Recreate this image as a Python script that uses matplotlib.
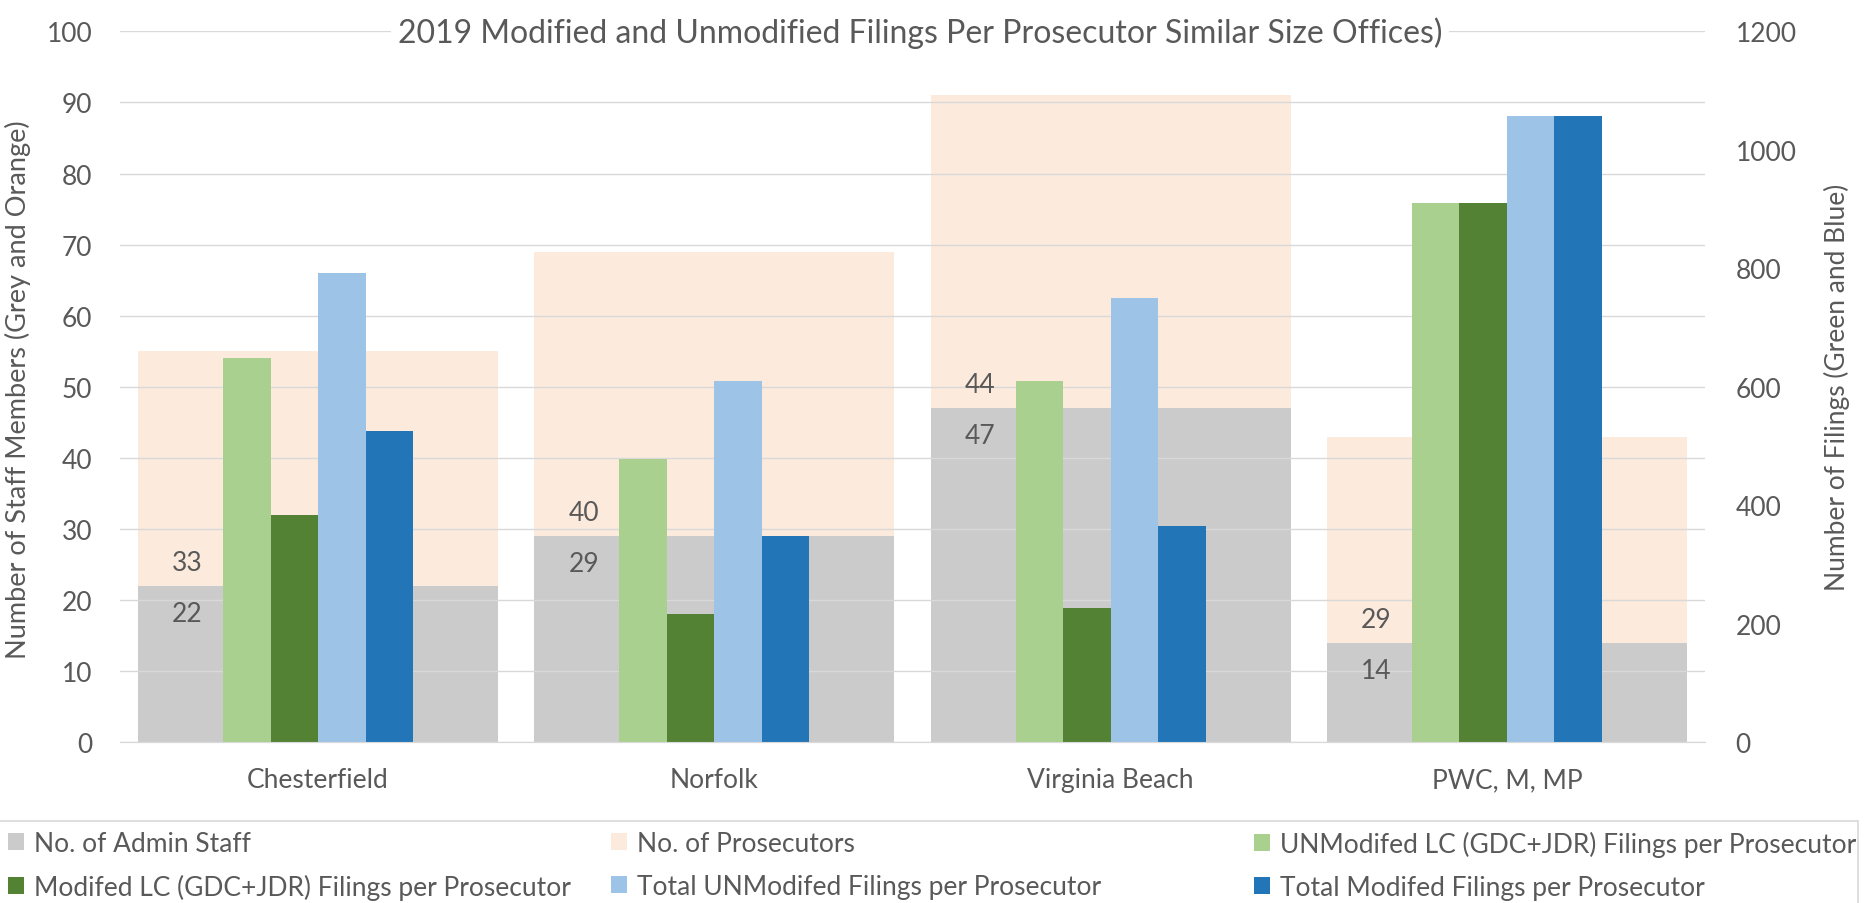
import matplotlib.pyplot as plt
import numpy as np
from matplotlib.patches import Patch, Rectangle

offices = ["Chesterfield", "Norfolk", "Virginia Beach", "PWC, M, MP"]
admin_staff = [22, 29, 47, 14]
prosecutors = [33, 40, 44, 29]
unmod_lc = [648, 478, 610, 911]
mod_lc = [384, 216, 227, 911]
total_unmod = [792, 610, 750, 1057]
total_mod = [526, 349, 365, 1057]

GREY = "#CBCBCB"
ORANGE = "#FCEADC"
LGREEN = "#A9D08E"
DGREEN = "#548235"
LBLUE = "#9DC3E6"
DBLUE = "#2275B7"
TEXT = "#595959"
GRID = "#D9D9D9"

FONT = "Lato"
FS = 19


def main():
    plt.rcParams["font.family"] = [FONT, "DejaVu Sans"]
    plt.rcParams["text.color"] = TEXT
    plt.rcParams["axes.labelcolor"] = TEXT
    plt.rcParams["xtick.color"] = TEXT
    plt.rcParams["ytick.color"] = TEXT

    fig = plt.figure(figsize=(18.68, 9.04), dpi=100)
    ax = fig.add_axes([120 / 1868, 1 - 743.3 / 904, 1585 / 1868, 711 / 904])
    ax2 = ax.twinx()

    x = np.arange(len(offices))

    # stacked staff bars on the left axis
    ax.bar(x, admin_staff, width=0.909, color=GREY, zorder=1)
    ax.bar(x, prosecutors, width=0.909, bottom=admin_staff, color=ORANGE, zorder=1)

    for i in range(len(offices)):
        ax.annotate(str(admin_staff[i]), (x[i] - 0.33, admin_staff[i]),
                    xytext=(0, -20), textcoords="offset points",
                    ha="center", va="center", fontsize=FS, color=TEXT)
        ax.annotate(str(prosecutors[i]), (x[i] - 0.33, admin_staff[i]),
                    xytext=(0, 17), textcoords="offset points",
                    ha="center", va="center", fontsize=FS, color=TEXT)

    # filings bars on the right axis
    w = 0.12
    ax2.bar(x - 1.5 * w, unmod_lc, width=w, color=LGREEN)
    ax2.bar(x - 0.5 * w, mod_lc, width=w, color=DGREEN)
    ax2.bar(x + 0.5 * w, total_unmod, width=w, color=LBLUE)
    ax2.bar(x + 1.5 * w, total_mod, width=w, color=DBLUE)

    ax.set_xlim(-0.5, 3.5)
    ax.set_ylim(0, 100)
    ax.set_yticks(range(0, 101, 10))
    ax2.set_ylim(0, 1200)
    ax2.set_yticks(range(0, 1201, 200))

    ax.set_axisbelow(False)
    ax.grid(axis="y", color=GRID, linewidth=1.0)
    ax.set_xticks(x)
    ax.set_xticklabels(offices)

    for a in (ax, ax2):
        for side in ("top", "left", "right"):
            a.spines[side].set_visible(False)
        a.spines["bottom"].set_color(GRID)
        a.tick_params(length=0, labelsize=FS)
    ax.tick_params(axis="y", pad=20)
    ax.tick_params(axis="x", pad=18)
    ax2.tick_params(axis="y", pad=22)

    ax.set_ylabel("Number of Staff Members (Grey and Orange)", fontsize=19.5)
    ax.yaxis.set_label_coords(-0.0562, 0.498)
    ax2.set_ylabel("Number of Filings (Green and Blue)", fontsize=FS)
    ax2.yaxis.set_label_coords(1.075, 0.5)

    fig.text(920 / 1868, 1 - 33 / 904,
             "2019 Modified and Unmodified Filings Per Prosecutor Similar Size Offices)",
             ha="center", va="center", fontsize=23, color=TEXT,
             bbox=dict(facecolor="white", edgecolor="none", pad=5))

    # legend frame along the bottom
    fig.patches.append(Rectangle((-0.01, -0.1), 1858 / 1868 + 0.01, 0.1 + 1 - 822 / 904,
                                 transform=fig.transFigure, facecolor="none",
                                 edgecolor=GRID, linewidth=1.2))

    columns = [
        (8, [("No. of Admin Staff", GREY), ("Modifed LC (GDC+JDR) Filings per Prosecutor", DGREEN)]),
        (611, [("No. of Prosecutors", ORANGE), ("Total UNModifed Filings per Prosecutor", LBLUE)]),
        (1254, [("UNModifed LC (GDC+JDR) Filings per Prosecutor", LGREEN),
                ("Total Modifed Filings per Prosecutor", DBLUE)]),
    ]
    for left, entries in columns:
        handles = [Patch(facecolor=c, edgecolor="none", label=t) for t, c in entries]
        fig.legend(handles=handles, loc="upper left",
                   bbox_to_anchor=(left / 1868, 1 - 832 / 904),
                   frameon=False, fontsize=FS, borderpad=0, borderaxespad=0,
                   handlelength=0.62, handleheight=0.62, handletextpad=0.35,
                   labelspacing=0.68, labelcolor=TEXT)

    fig.savefig("out.png", dpi=100)


if __name__ == '__main__':
    main()
